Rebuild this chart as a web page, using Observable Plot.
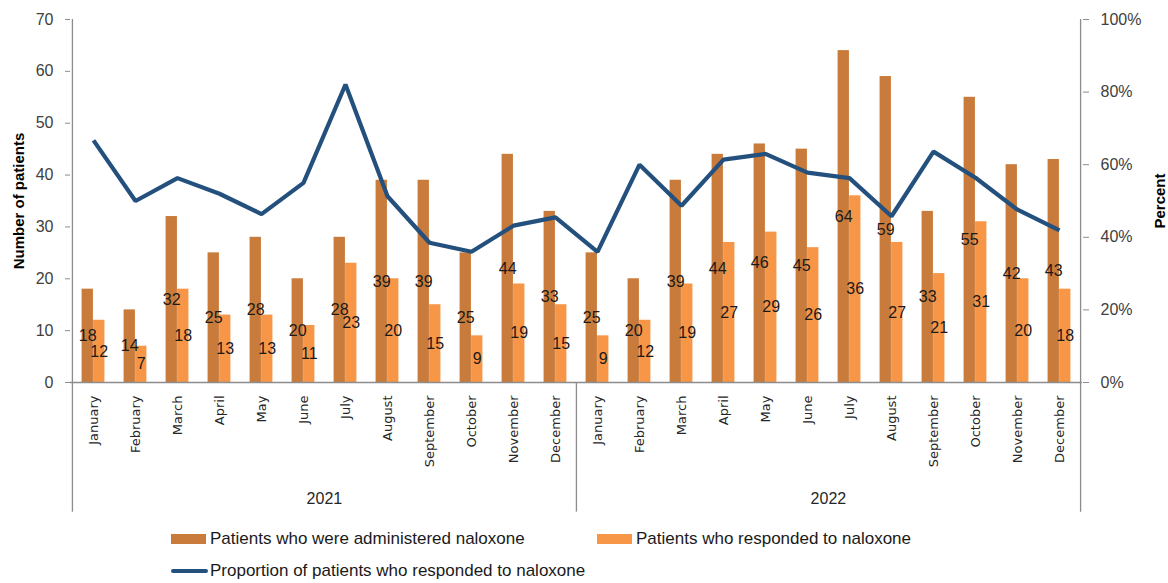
<!DOCTYPE html>
<html>
<head>
<meta charset="utf-8">
<script src="https://cdn.jsdelivr.net/npm/d3@7"></script>
<script src="https://cdn.jsdelivr.net/npm/@observablehq/plot@0.6"></script>
<style>
  html, body { margin: 0; padding: 0; background: #fff; }
  #wrap { position: relative; width: 1168px; height: 583px; font-family: "Liberation Sans", Arial, sans-serif; }
  .leg { position: absolute; display: flex; align-items: center; font-size: 17px; color: #1a1a1a; white-space: nowrap; }
  .sw { width: 35px; height: 10px; margin-right: 4px; }
  .ln { width: 37px; height: 4px; margin-right: 2px; background: #24507e; border-radius: 2px; }
</style>
</head>
<body>
<div id="wrap"></div>
<script>
const months = ["January","February","March","April","May","June","July","August","September","October","November","December"];
const years = ["2021","2022"];
const administered = [18,14,32,25,28,20,28,39,39,25,44,33, 25,20,39,44,46,45,64,59,33,55,42,43];
const responded    = [12,7,18,13,13,11,23,20,15,9,19,15, 9,12,19,27,29,26,36,27,21,31,20,18];
const percentResponded = [66.7,50.0,56.3,52.0,46.4,55.0,82.1,51.3,38.5,36.0,43.2,45.5,
                          36.0,60.0,48.7,61.4,63.0,57.8,56.3,45.8,63.6,56.4,47.6,41.9];
const countTicks = [0,10,20,30,40,50,60,70];
const percentTicks = [0,20,40,60,80,100];
const seriesNames = ["Patients who were administered naloxone","Patients who responded to naloxone","Proportion of patients who responded to naloxone"];
const colAdmin = "#c97b3b", colResp = "#f79646", colLine = "#24507e";

const W = 1168, H = 520, mL = 70, mR = 86, mT = 19, mB = 138;
const yMax = 70;
const keys = [];
const rows = [];
years.forEach((yr, yi) => months.forEach((m, mi) => {
  const i = yi * 12 + mi;
  const key = yr + " " + m;
  keys.push(key);
  rows.push({key, month: m, year: yr, admin: administered[i], resp: responded[i], pct: percentResponded[i]});
}));
const bw = (W - mL - mR) / keys.length;
const barW = 11.5;
const toY = p => p / 100 * yMax;
const gray = "#8c8c8c";

const chart = Plot.plot({
  width: W, height: H,
  marginLeft: mL, marginRight: mR, marginTop: mT, marginBottom: mB,
  style: {fontFamily: "Liberation Sans, Arial, sans-serif", background: "#fff"},
  x: {domain: keys, padding: 0, axis: null},
  y: {domain: [0, yMax], axis: null},
  marks: [
    Plot.barY(rows, {x: "key", y: "admin", fill: colAdmin, insetLeft: bw/2 - barW, insetRight: bw/2}),
    Plot.barY(rows, {x: "key", y: "resp", fill: colResp, insetLeft: bw/2, insetRight: bw/2 - barW}),
    Plot.text(rows, {x: "key", y: d => d.admin / 2, text: d => String(d.admin), dx: -barW/2, fontSize: 16, fill: "#1a1a1a"}),
    Plot.text(rows, {x: "key", y: d => d.resp / 2, text: d => String(d.resp), dx: barW/2, fontSize: 16, fill: "#1a1a1a"}),
    Plot.lineY(rows, {x: "key", y: d => toY(d.pct), stroke: colLine, strokeWidth: 4.2, strokeLinejoin: "miter", strokeLinecap: "butt"}),
    Plot.ruleY([0], {stroke: gray, strokeWidth: 1.3}),
    Plot.ruleX([keys[0], keys[12]], {x: d => d, dx: -bw/2, y1: -25, y2: d => d === keys[0] ? yMax : 0, stroke: gray, strokeWidth: 1.3}),
    Plot.ruleX([keys[23]], {x: d => d, dx: bw/2, y1: -25, y2: yMax, stroke: gray, strokeWidth: 1.3}),
    // month labels (category axis)
    Plot.text(rows, {x: "key", y: 0, dy: 13, text: "month", rotate: -90, textAnchor: "end",
                     fontFamily: "DejaVu Sans", fontSize: 13, fill: "#262626"}),
    Plot.text(years, {x: yr => yr + " July", dx: -bw/2, y: -22.5, text: d => d, fontSize: 16, fill: "#262626"}),
    Plot.axisY({anchor: "left", ticks: countTicks, tickSize: 5, tickPadding: 12, fontSize: 16, fill: "#404040", stroke: gray, label: null}),
    Plot.axisY({anchor: "right", ticks: percentTicks.map(toY), tickFormat: v => Math.round(v / yMax * 100) + "%",
                tickSize: 6, tickPadding: 12, fontSize: 16, fill: "#404040", stroke: gray, label: null}),
    Plot.text(["Number of patients"], {frameAnchor: "left", textAnchor: "middle", dx: -51, rotate: -90, text: d => d, fontSize: 15, fontWeight: "bold", fill: "#000"}),
    Plot.text(["Percent"], {frameAnchor: "right", textAnchor: "middle", dx: 78, rotate: -90, text: d => d, fontSize: 15, fontWeight: "bold", fill: "#000"})
  ]
});

const wrap = document.getElementById("wrap");
chart.style.display = "block";
wrap.appendChild(chart);

function legendItem(label, left, top, kind, color) {
  const d = document.createElement("div");
  d.className = "leg";
  d.style.left = left + "px";
  d.style.top = top + "px";
  const s = document.createElement("span");
  s.className = kind;
  s.style.background = color;
  d.appendChild(s);
  const t = document.createElement("span");
  t.textContent = label;
  d.appendChild(t);
  wrap.appendChild(d);
}
legendItem(seriesNames[0], 171, 529, "sw", colAdmin);
legendItem(seriesNames[1], 597, 529, "sw", colResp);
legendItem(seriesNames[2], 171, 561, "ln", colLine);
</script>
</body>
</html>
